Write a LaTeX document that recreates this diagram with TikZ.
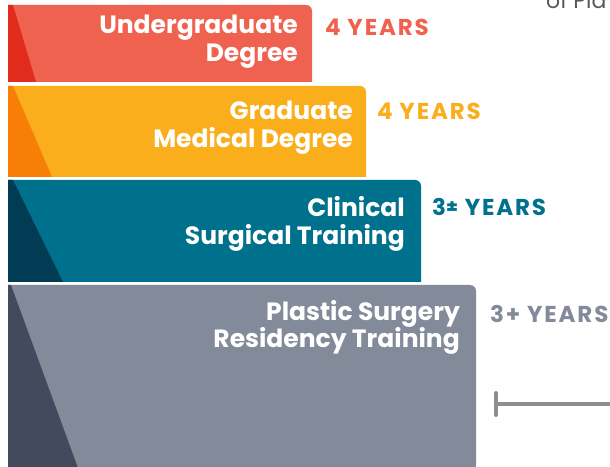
\documentclass[tikz,border=0pt]{standalone}
\usepackage{fontspec}
\setmainfont{Poppins}
\definecolor{ugmain}{HTML}{EF6250}
\definecolor{ugdark}{HTML}{E12B1C}
\definecolor{gradmain}{HTML}{FBAE1C}
\definecolor{graddark}{HTML}{F77F07}
\definecolor{clinmain}{HTML}{00718C}
\definecolor{clindark}{HTML}{013B54}
\definecolor{resmain}{HTML}{838B9B}
\definecolor{resdark}{HTML}{434A5D}
\definecolor{notegray}{HTML}{58595B}
\definecolor{linegray}{HTML}{8E8E8E}
\begin{document}
\begin{tikzpicture}[x=1pt,y=1pt,
    bartext/.style={text=white, font=\bfseries\fontsize{25}{28}\selectfont,
      align=right, anchor=base east, inner sep=0pt},
    yeartext/.style={font=\bfseries\fontsize{23}{24}\selectfont\addfontfeature{LetterSpace=8},
      anchor=base west, inner sep=0pt},
    bracket/.style={linegray, line width=4pt, line cap=round}]
        \useasboundingbox (0,0) rectangle (610,466);

        % undergraduate
        \fill [ugmain] (8,384) -- (8,461) -- (306,461) arc[start angle=90, end angle=0, radius=6] -- (312,384) -- cycle;
        \fill [ugdark] (8,384) -- (8,461) -- (13,461) -- (36,384) -- cycle;
        \node [bartext] (ug) at (298,404) {Undergraduate\\Degree};
        \node [yeartext, text=ugmain] (ugyears) at (325,430) {4 YEARS};

        % graduate
        \fill [gradmain] (8,289) -- (8,380) -- (360,380) arc[start angle=90, end angle=0, radius=6] -- (366,289) -- cycle;
        \fill [graddark] (8,289) -- (8,380) -- (13,380) -- (52,289) -- cycle;
        \node [bartext] (grad) at (353,318) {Graduate\\Medical Degree};
        \node [yeartext, text=gradmain] (gradyears) at (377,346) {4 YEARS};

        % clinical
        \fill [clinmain] (8,184) -- (8,286) -- (415,286) arc[start angle=90, end angle=0, radius=6] -- (421,184) -- cycle;
        \fill [clindark] (8,184) -- (8,286) -- (13,286) -- (63,184) -- cycle;
        \node [bartext] (clin) at (405,221) {Clinical\\Surgical Training};
        \node [yeartext, text=clinmain] (clinyears) at (432,250)
            {3\raisebox{0.12em}{\fontsize{19}{19}\selectfont ±} YEARS};

        % residency
        \fill [resmain] (8,-2) -- (8,181) -- (470,181) arc[start angle=90, end angle=0, radius=6] -- (476,-2) -- cycle;
        \fill [resdark] (8,-2) -- (8,181) -- (11,181) -- (78,-2) -- cycle;
        \node [bartext] (res) at (460,118) {Plastic Surgery\\Residency Training};
        \node [yeartext, text=resmain] (resyears) at (490,143.5) {3+ YEARS};

        % note and bracket
        \node [anchor=base west, inner sep=0pt, text=notegray, font=\fontsize{22}{24}\selectfont] (note) at (546,457) {of Pla};
        \coordinate (brL) at (496,62);
        \coordinate (brR) at (614,62);
        \draw [bracket] (brL) -- (brR);
        \draw [bracket] ([yshift=11pt]brL) -- ([yshift=-11pt]brL);
\end{tikzpicture}
\end{document}
